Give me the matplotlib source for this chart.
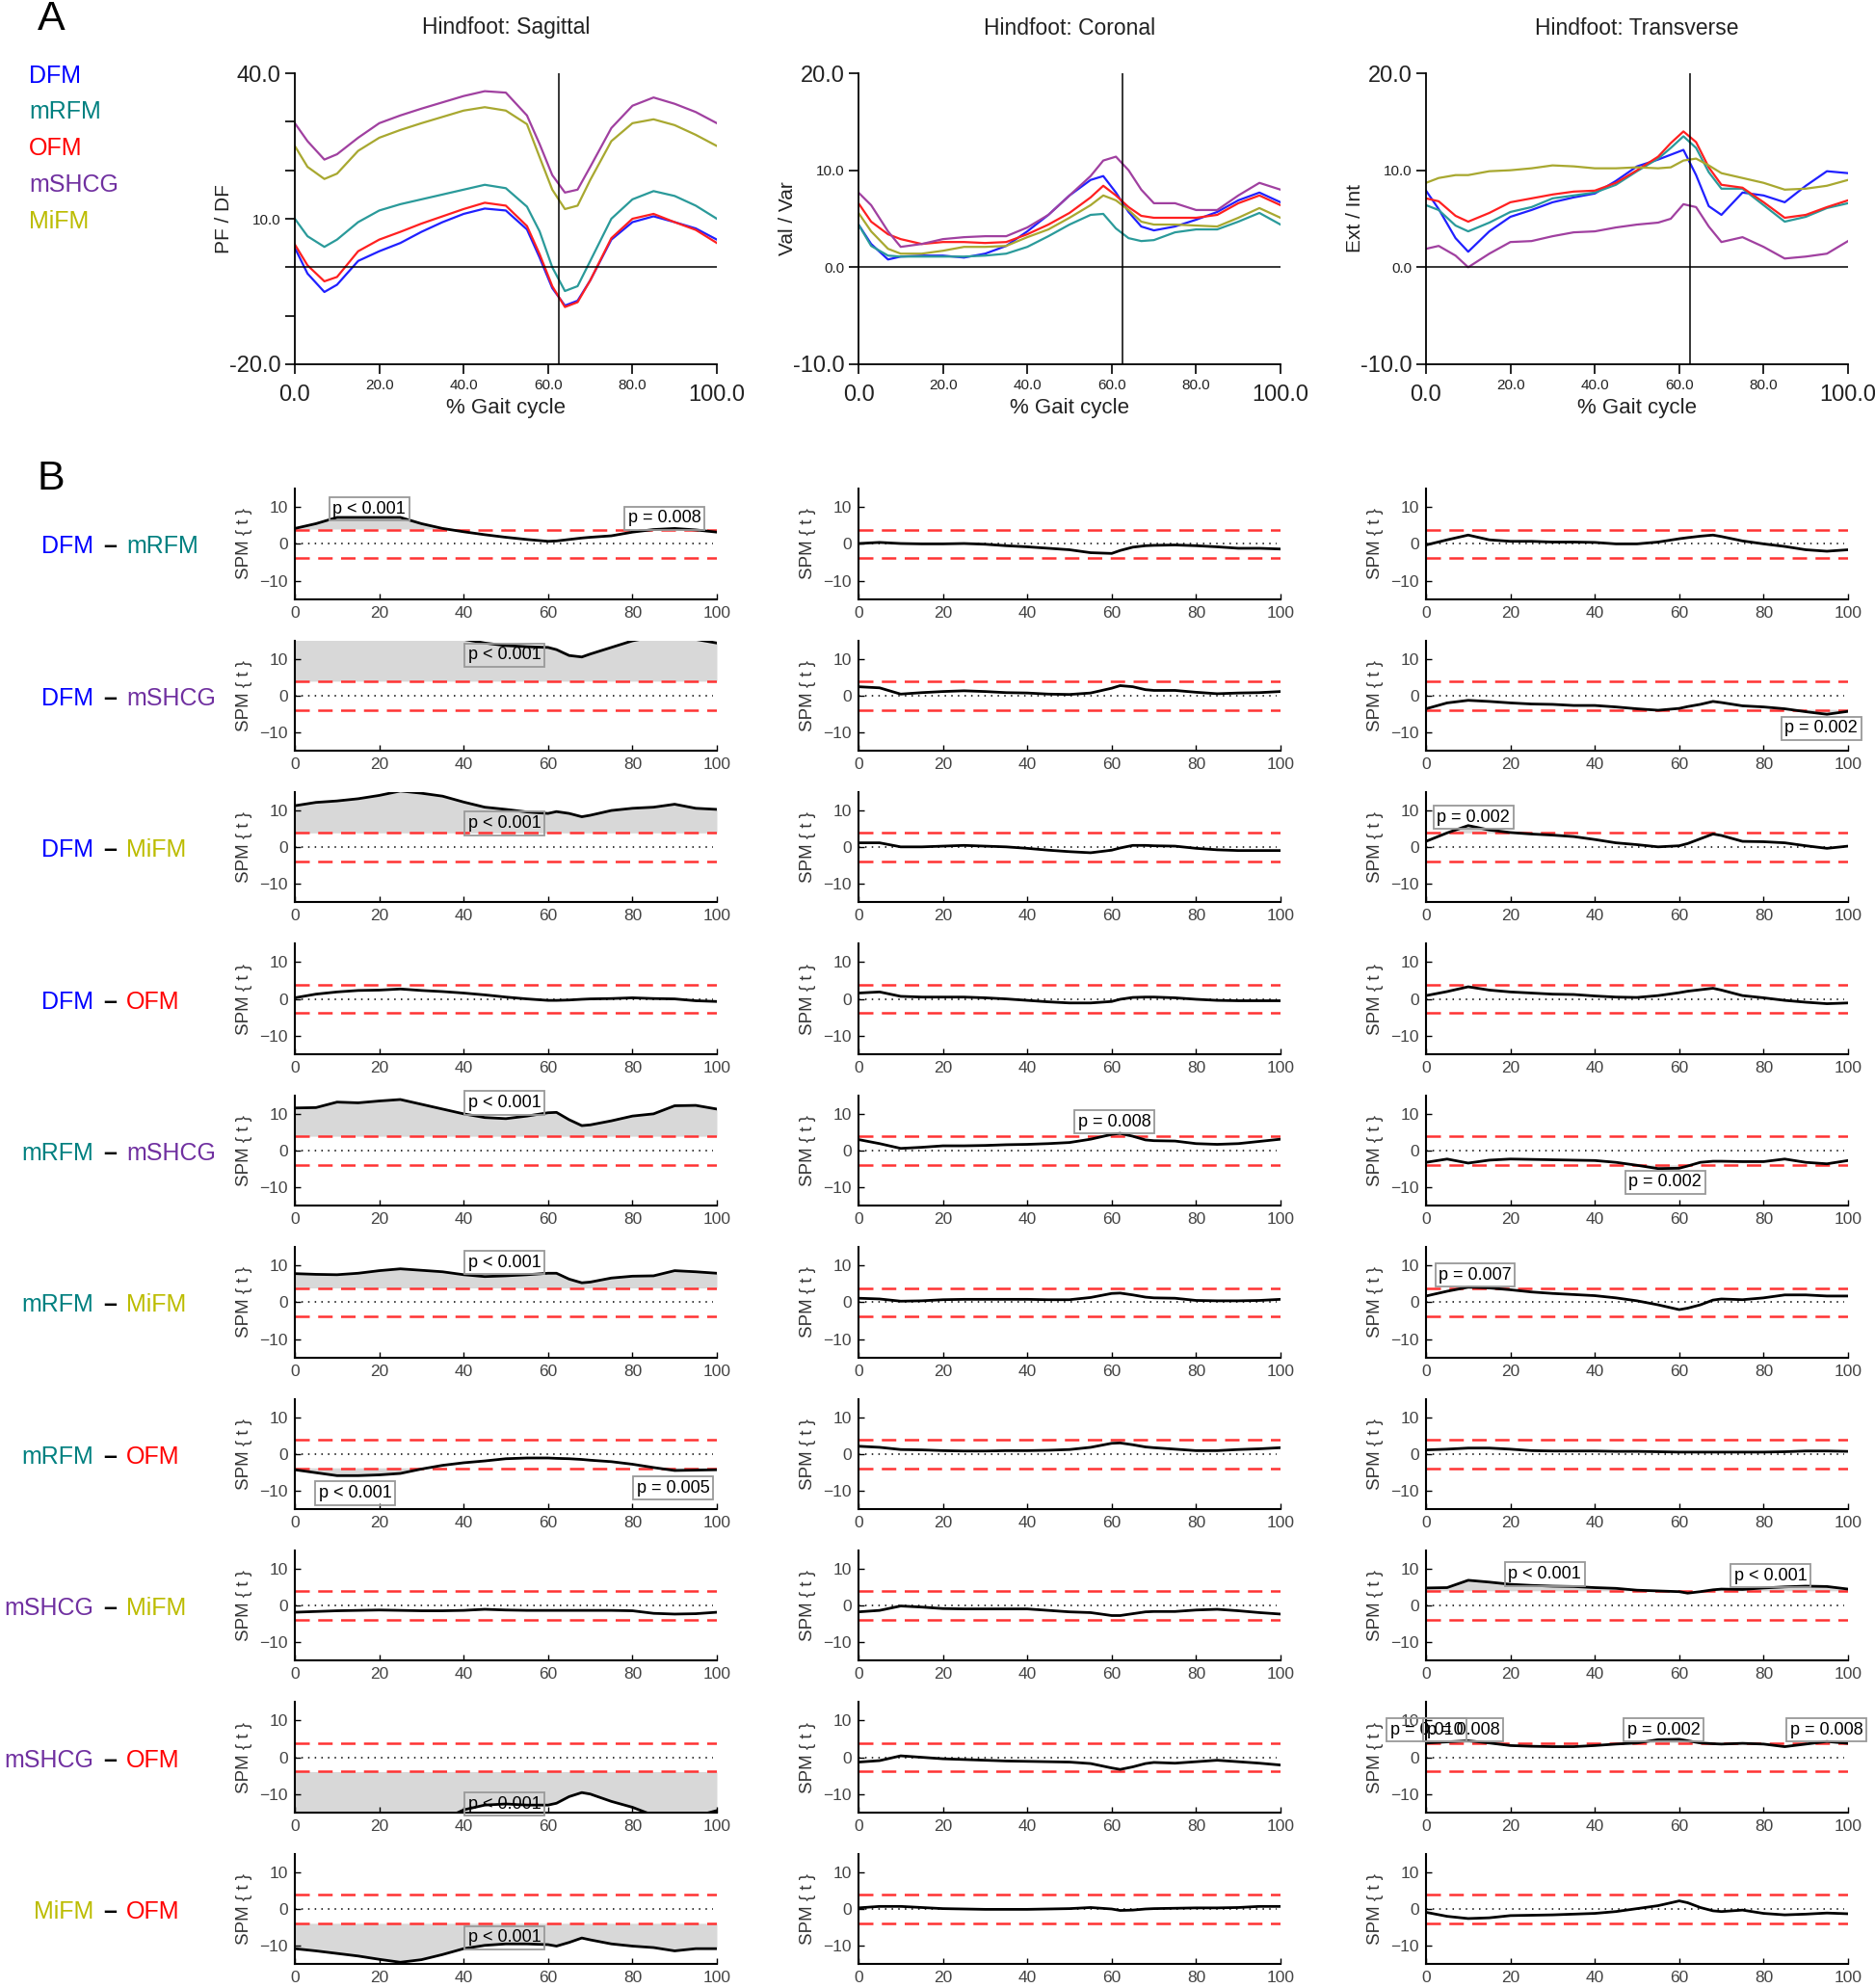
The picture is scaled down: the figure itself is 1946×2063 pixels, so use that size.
import numpy as np
import matplotlib
matplotlib.use('Agg')
import matplotlib.pyplot as plt
from matplotlib.transforms import ScaledTranslation

plt.rcParams['font.family'] = ['Liberation Sans', 'DejaVu Sans']

# ---------------- data ----------------
groups = ['DFM', 'mRFM', 'OFM', 'mSHCG', 'MiFM']
label_colors = ['#0000ff', '#008080', '#ff0000', '#7030a0', '#bcbc00']
line_colors = ['#2020ff', '#2a9a9a', '#ff2020', '#a040a0', '#a8a830']

planes = ['Sagittal', 'Coronal', 'Transverse']
plane_ylabels = ['PF / DF', 'Val / Var', 'Ext / Int']
toe_off = 62.5

# % gait cycle for the kinematic curves
gait_x = [0, 3, 7, 10, 15, 20, 25, 30, 35, 40, 45, 50, 55, 58, 61, 64, 67, 70, 75, 80, 85, 90, 95, 100]

# hindfoot sagittal (deg)
sag_dfm = [4.0, -1.3, -5.1, -3.6, 1.3, 3.3, 5.0, 7.3, 9.3, 11.0, 12.1, 11.7, 7.8, 2.0, -4.3, -7.9, -6.9, -2.7, 5.7, 9.3, 10.5, 9.3, 8.0, 5.7]
sag_mrfm = [10.0, 6.4, 4.2, 5.7, 9.3, 11.7, 13.0, 14.0, 15.0, 16.0, 17.0, 16.3, 12.5, 7.4, 0.0, -4.9, -3.9, 1.3, 10.0, 14.0, 15.7, 14.7, 12.7, 10.0]
sag_ofm = [4.7, 0.4, -2.9, -2.0, 3.3, 5.7, 7.3, 9.0, 10.5, 12.0, 13.3, 12.7, 8.5, 2.7, -3.9, -8.2, -7.2, -2.7, 6.0, 10.0, 11.0, 9.3, 7.7, 5.0]
sag_mshcg = [29.7, 26.0, 22.2, 23.3, 26.7, 29.7, 31.3, 32.7, 34.0, 35.3, 36.3, 36.0, 31.3, 25.4, 19.0, 15.4, 16.0, 20.7, 28.7, 33.3, 35.0, 33.7, 32.0, 29.7]
sag_mifm = [25.0, 20.7, 18.2, 19.3, 24.0, 26.7, 28.3, 29.7, 31.0, 32.3, 33.0, 32.3, 29.5, 22.7, 16.0, 12.0, 12.7, 18.0, 26.0, 29.7, 30.5, 29.3, 27.3, 25.0]

# hindfoot coronal (deg)
cor_dfm = [4.4, 2.4, 0.8, 1.1, 1.2, 1.2, 1.0, 1.4, 2.2, 3.7, 5.4, 7.4, 9.0, 9.4, 7.7, 5.7, 4.2, 3.8, 4.2, 4.9, 5.7, 6.9, 7.7, 6.7]
cor_mrfm = [4.4, 2.2, 1.2, 1.1, 1.1, 1.1, 1.1, 1.2, 1.4, 2.1, 3.2, 4.4, 5.4, 5.5, 4.0, 3.0, 2.7, 2.8, 3.6, 3.9, 3.9, 4.7, 5.6, 4.4]
cor_ofm = [6.6, 4.7, 3.4, 2.9, 2.4, 2.6, 2.6, 2.5, 2.6, 3.4, 4.4, 5.6, 7.2, 8.4, 7.4, 6.2, 5.3, 5.1, 5.1, 5.1, 5.4, 6.6, 7.4, 6.4]
cor_mshcg = [7.7, 6.4, 3.7, 2.1, 2.4, 2.9, 3.1, 3.2, 3.2, 4.1, 5.4, 7.4, 9.4, 11.0, 11.4, 10.0, 8.0, 6.6, 6.6, 5.9, 5.9, 7.4, 8.7, 8.0]
cor_mifm = [5.6, 3.7, 1.9, 1.4, 1.4, 1.7, 2.1, 2.1, 2.2, 3.1, 3.9, 5.1, 6.4, 7.4, 6.9, 5.9, 4.7, 4.4, 4.4, 4.3, 4.2, 5.1, 6.1, 5.1]

# hindfoot transverse (deg)
tra_dfm = [7.9, 6.0, 3.0, 1.6, 3.7, 5.2, 5.9, 6.7, 7.2, 7.6, 8.9, 10.4, 11.1, 11.6, 12.1, 9.5, 6.3, 5.4, 7.7, 7.4, 6.7, 8.4, 9.9, 9.7]
tra_mrfm = [6.4, 5.9, 4.3, 3.7, 4.6, 5.7, 6.2, 7.1, 7.4, 7.7, 8.5, 9.9, 11.2, 12.3, 13.5, 12.3, 9.8, 8.1, 8.1, 6.4, 4.7, 5.2, 6.1, 6.6]
tra_ofm = [7.1, 6.8, 5.3, 4.7, 5.6, 6.7, 7.1, 7.5, 7.8, 7.9, 8.7, 10.0, 11.4, 12.8, 14.0, 12.9, 10.3, 8.5, 8.2, 6.7, 5.1, 5.4, 6.2, 6.9]
tra_mshcg = [1.9, 2.2, 1.2, 0.0, 1.4, 2.6, 2.7, 3.2, 3.6, 3.7, 4.1, 4.4, 4.6, 5.0, 6.5, 6.2, 4.2, 2.6, 3.1, 2.1, 0.9, 1.1, 1.4, 2.7]
tra_mifm = [8.7, 9.2, 9.5, 9.5, 9.9, 10.0, 10.2, 10.5, 10.4, 10.2, 10.2, 10.3, 10.2, 10.3, 11.0, 11.2, 10.5, 9.7, 9.2, 8.7, 8.0, 8.1, 8.4, 9.0]

kinematics = [
    [sag_dfm, sag_mrfm, sag_ofm, sag_mshcg, sag_mifm],
    [cor_dfm, cor_mrfm, cor_ofm, cor_mshcg, cor_mifm],
    [tra_dfm, tra_mrfm, tra_ofm, tra_mshcg, tra_mifm],
]

# pairwise comparisons (SPM t statistic)
pairs = [('DFM', 'mRFM'), ('DFM', 'mSHCG'), ('DFM', 'MiFM'), ('DFM', 'OFM'),
         ('mRFM', 'mSHCG'), ('mRFM', 'MiFM'), ('mRFM', 'OFM'),
         ('mSHCG', 'MiFM'), ('mSHCG', 'OFM'), ('MiFM', 'OFM')]
t_crit = 3.9
spm_x = [0, 5, 10, 15, 20, 25, 30, 35, 40, 45, 50, 55, 60, 62, 65, 68, 70, 75, 80, 85, 90, 95, 100]

spm_sag = [
    [4.2, 5.5, 7.2, 7.2, 7.2, 7.2, 5.5, 4.2, 3.3, 2.5, 1.8, 1.2, 0.7, 0.8, 1.2, 1.6, 1.8, 2.2, 3.2, 3.9, 4.2, 3.8, 3.2],
    [19, 19.5, 20, 20, 19.5, 19, 18, 17, 15.3, 14.3, 13.6, 13.3, 13.1, 12.5, 10.9, 10.5, 11.3, 13.1, 14.9, 16, 16.5, 15.3, 14.3],
    [11.3, 12.2, 12.6, 13.2, 14.1, 15.3, 14.7, 13.9, 12.3, 10.9, 10.3, 9.6, 9.2, 9.7, 9.2, 8.3, 8.7, 10.0, 10.6, 10.9, 11.7, 10.6, 10.3],
    [0.3, 1.3, 1.9, 2.3, 2.4, 2.7, 2.3, 2.0, 1.6, 1.1, 0.5, 0.0, -0.4, -0.4, -0.3, -0.1, 0.0, 0.1, 0.3, 0.1, 0.0, -0.5, -0.7],
    [11.6, 11.7, 13.2, 13.0, 13.5, 13.9, 12.6, 11.3, 10.0, 9.0, 8.7, 9.4, 10.3, 10.4, 8.4, 6.8, 7.0, 8.1, 9.4, 10.0, 12.2, 12.3, 11.3],
    [7.8, 7.6, 7.5, 7.9, 8.6, 9.1, 8.7, 8.3, 7.5, 7.0, 7.2, 7.5, 7.9, 7.9, 6.3, 5.3, 5.5, 6.6, 7.1, 7.2, 8.6, 8.3, 7.9],
    [-4.3, -5.1, -5.9, -5.9, -5.7, -5.3, -4.1, -3.1, -2.4, -1.9, -1.3, -1.1, -1.1, -1.2, -1.3, -1.5, -1.7, -2.1, -2.8, -3.7, -4.5, -4.4, -4.3],
    [-1.8, -1.6, -1.4, -1.3, -1.2, -1.3, -1.4, -1.4, -1.3, -1.0, -1.2, -1.3, -1.3, -1.3, -1.3, -1.3, -1.3, -1.3, -1.4, -2.1, -2.3, -2.2, -1.8],
    [-19, -20, -21, -21, -21, -20.5, -19, -17, -14.3, -13.0, -12.7, -13.0, -13.0, -12.5, -10.7, -9.6, -10.0, -12.0, -13.6, -15.8, -17, -16, -14.5],
    [-10.8, -11.4, -12.1, -12.8, -13.7, -14.5, -13.8, -12.4, -10.8, -9.9, -9.5, -9.5, -9.7, -10.1, -9.1, -7.9, -8.4, -9.5, -10.1, -10.5, -11.4, -10.8, -10.8],
]
spm_cor = [
    [0.1, 0.4, 0.1, 0.0, 0.0, 0.1, -0.1, -0.5, -0.8, -1.2, -1.6, -2.4, -2.6, -1.8, -0.9, -0.5, -0.4, -0.3, -0.5, -0.8, -1.2, -1.2, -1.4],
    [2.4, 2.1, 0.4, 0.8, 1.1, 1.3, 1.1, 0.8, 0.7, 0.4, 0.3, 0.7, 2.0, 2.7, 2.4, 1.6, 1.4, 1.4, 0.9, 0.5, 0.7, 0.8, 1.1],
    [1.2, 1.2, 0.1, 0.1, 0.3, 0.5, 0.3, 0.1, -0.3, -0.8, -1.2, -1.5, -0.8, -0.2, 0.5, 0.5, 0.4, 0.3, -0.3, -0.7, -0.9, -0.9, -0.9],
    [1.6, 1.9, 0.7, 0.5, 0.5, 0.5, 0.3, 0.0, -0.4, -0.8, -1.1, -1.1, -0.7, -0.1, 0.4, 0.5, 0.5, 0.3, -0.1, -0.4, -0.5, -0.5, -0.5],
    [3.0, 1.9, 0.6, 0.9, 1.3, 1.3, 1.4, 1.6, 1.7, 1.9, 2.2, 3.1, 4.4, 4.7, 3.9, 2.9, 2.7, 2.6, 1.9, 1.7, 1.9, 2.5, 3.1],
    [1.1, 0.9, 0.3, 0.4, 0.7, 0.8, 0.8, 0.8, 0.8, 0.7, 0.7, 1.3, 2.4, 2.5, 2.0, 1.4, 1.2, 1.1, 0.5, 0.4, 0.4, 0.5, 0.8],
    [2.1, 1.8, 1.2, 1.1, 0.9, 0.8, 0.8, 0.9, 0.9, 1.0, 1.2, 1.8, 2.9, 3.0, 2.5, 1.9, 1.7, 1.3, 0.9, 0.9, 1.2, 1.4, 1.7],
    [-1.7, -1.3, -0.1, -0.4, -0.8, -0.9, -0.9, -0.9, -0.9, -1.3, -1.7, -1.9, -2.7, -2.7, -2.2, -1.7, -1.6, -1.6, -1.2, -1.0, -1.4, -1.9, -2.3],
    [-1.3, -0.9, 0.4, 0.0, -0.4, -0.6, -0.8, -1.0, -1.1, -1.2, -1.3, -1.7, -2.9, -3.3, -2.6, -1.7, -1.4, -1.6, -1.2, -0.8, -1.2, -1.6, -2.1],
    [0.3, 0.7, 0.7, 0.4, 0.1, 0.0, -0.1, -0.1, -0.1, 0.0, 0.1, 0.4, 0.0, -0.4, -0.3, 0.0, 0.1, 0.2, 0.3, 0.3, 0.4, 0.7, 0.7],
]
spm_tra = [
    [-0.3, 1.1, 2.4, 1.1, 0.7, 0.7, 0.5, 0.5, 0.4, 0.0, 0.0, 0.5, 1.4, 1.7, 2.1, 2.4, 2.0, 0.8, 0.0, -0.7, -1.6, -2.0, -1.6],
    [-3.6, -2.0, -1.3, -1.6, -2.0, -2.3, -2.4, -2.7, -2.7, -3.1, -3.6, -4.0, -3.5, -3.0, -2.4, -1.6, -1.9, -2.8, -3.1, -3.6, -4.4, -5.1, -4.3],
    [1.6, 3.9, 5.9, 4.7, 4.0, 3.6, 3.3, 2.9, 2.1, 1.2, 0.7, 0.1, 0.4, 1.0, 2.3, 3.6, 3.2, 1.6, 1.5, 1.2, 0.4, -0.3, 0.3],
    [0.9, 2.0, 3.3, 2.4, 1.9, 1.6, 1.3, 1.2, 0.8, 0.5, 0.4, 0.9, 1.7, 2.1, 2.5, 2.9, 2.4, 0.9, 0.3, -0.4, -0.9, -1.3, -1.1],
    [-3.2, -2.3, -3.4, -2.6, -2.3, -2.4, -2.5, -2.6, -2.7, -3.2, -4.0, -4.9, -4.8, -4.2, -3.2, -2.9, -2.9, -3.0, -3.0, -2.3, -3.2, -3.6, -2.7],
    [1.7, 3.0, 4.1, 3.9, 3.4, 2.8, 2.4, 2.1, 1.8, 1.2, 0.4, -0.7, -2.0, -1.6, -0.7, 0.6, 0.9, 0.7, 1.2, 2.0, 2.0, 1.7, 1.7],
    [1.1, 1.3, 1.6, 1.6, 1.3, 0.9, 0.8, 0.8, 0.8, 0.7, 0.7, 0.6, 0.5, 0.5, 0.5, 0.5, 0.5, 0.5, 0.5, 0.6, 0.8, 0.8, 0.7],
    [4.8, 4.9, 6.9, 6.4, 5.8, 5.5, 5.3, 5.2, 4.9, 4.7, 4.2, 4.0, 3.8, 3.4, 3.8, 4.3, 4.5, 4.4, 4.8, 5.1, 5.3, 5.2, 4.5],
    [3.9, 4.2, 4.5, 3.9, 3.2, 3.0, 2.9, 2.9, 3.2, 3.6, 3.9, 4.8, 4.9, 4.5, 3.9, 3.7, 3.6, 3.8, 3.6, 2.9, 3.6, 4.3, 3.8],
    [-0.9, -2.0, -2.6, -2.4, -1.8, -1.7, -1.6, -1.4, -1.2, -0.7, 0.1, 0.9, 2.2, 1.7, 0.4, -0.5, -0.7, -0.3, -1.2, -1.6, -1.4, -1.1, -1.3],
]
spm_all = [spm_sag, spm_cor, spm_tra]

# p-value annotations: (row, column, left x, y, text)
p_labels = [
    (0, 0, 8, 9.5, 'p < 0.001'), (0, 0, 78, 7.0, 'p = 0.008'),
    (1, 0, 40, 11.0, 'p < 0.001'), (2, 0, 40, 6.5, 'p < 0.001'),
    (4, 0, 40, 13.0, 'p < 0.001'), (5, 0, 40, 10.8, 'p < 0.001'),
    (6, 0, 4.6, -10.7, 'p < 0.001'), (6, 0, 80, -9.3, 'p = 0.005'),
    (8, 0, 40, -12.7, 'p < 0.001'), (9, 0, 40, -7.8, 'p < 0.001'),
    (4, 1, 51, 7.8, 'p = 0.008'),
    (1, 2, 84, -8.9, 'p = 0.002'), (2, 2, 1.6, 8.1, 'p = 0.002'),
    (4, 2, 47, -8.6, 'p = 0.002'), (5, 2, 2, 7.4, 'p = 0.007'),
    (7, 2, 18.5, 8.6, 'p < 0.001'), (7, 2, 72, 8.1, 'p < 0.001'),
    (8, 2, -9.5, 7.4, 'p = 0.010'), (8, 2, -0.8, 7.4, 'p = 0.008'),
    (8, 2, 46.7, 7.4, 'p = 0.002'), (8, 2, 85.3, 7.4, 'p = 0.008'),
]

# ---------------- figure ----------------
W, H = 1946, 2063
fig = plt.figure(figsize=(W / 100, H / 100), dpi=100)

col_left = [306, 891, 1480]
col_w = 438


def fx(px):
    return px / W


def fy(py):
    return 1 - py / H


# panel A: kinematics
kin_yt = [[-20, -10, 0, 10, 20, 30, 40], [-10, 0, 10, 20], [-10, 0, 10, 20]]
kin_yl = [['-20.0', '', '', '10.0', '', '', '40.0'], ['-10.0', '0.0', '10.0', '20.0'], ['-10.0', '0.0', '10.0', '20.0']]
kin_ylim = [(-20, 40), (-10, 20), (-10, 20)]
for c in range(3):
    ax = fig.add_axes([fx(col_left[c]), fy(378), fx(col_w), 302 / H])
    for g in range(5):
        ax.plot(gait_x, kinematics[c][g], color=line_colors[g], lw=1.6)
    ax.axhline(0, color='k', lw=1.1)
    ax.axvline(toe_off, color='k', lw=1.1)
    ax.set_xlim(0, 100)
    ax.set_ylim(*kin_ylim[c])
    ax.spines[['top', 'right']].set_visible(False)
    for s in ['left', 'bottom']:
        ax.spines[s].set_linewidth(1.3)
    ax.tick_params(direction='out', length=7, width=1.2, colors='k')
    ax.set_yticks(kin_yt[c])
    ax.set_yticklabels(kin_yl[c])
    for lab in ax.get_yticklabels():
        t = lab.get_text()
        lab.set_fontsize(17 if t in ('40.0', '20.0', '-20.0', '-10.0') else 11)
        lab.set_color('#222222')
    ax.set_xticks([0, 20, 40, 60, 80, 100])
    ax.set_xticklabels(['0.0', '20.0', '40.0', '60.0', '80.0', '100.0'])
    for lab in ax.get_xticklabels():
        lab.set_color('#222222')
        if lab.get_text() in ('0.0', '100.0'):
            lab.set_fontsize(17)
            lab.set_transform(lab.get_transform() + ScaledTranslation(0, -0.06, fig.dpi_scale_trans))
        else:
            lab.set_fontsize(11)
    ax.set_ylabel(plane_ylabels[c], fontsize=15, color='#222222')
    ax.yaxis.set_label_coords(-0.145, 0.5)
    ax.set_xlabel('% Gait cycle', fontsize=16, color='#222222')
    ax.xaxis.set_label_coords(0.5, -0.115)
    fig.text(fx(col_left[c] + col_w / 2), fy(29), 'Hindfoot: ' + planes[c],
             ha='center', va='center', fontsize=16.5, color='#222222')

fig.text(fx(53), fy(20), 'A', ha='center', va='center', fontsize=31)
for g, yy in zip(range(5), [79, 116, 154, 192, 230]):
    fig.text(fx(30), fy(yy), groups[g], ha='left', va='center', fontsize=18, color=label_colors[g])

# panel B: SPM
fig.text(fx(53), fy(497), 'B', ha='center', va='center', fontsize=31)
name_col = dict(zip(groups, label_colors))
spm_x_arr = np.array(spm_x)
for r in range(10):
    zero_px = 564.4 + 157.4 * r
    a, b = pairs[r]
    fig.text(fx(97), fy(zero_px + 3), a, ha='right', va='center', fontsize=18, color=name_col[a])
    fig.text(fx(114), fy(zero_px + 3), '\u2013', ha='center', va='center', fontsize=18,
             color='k', fontweight='bold')
    fig.text(fx(131), fy(zero_px + 3), b, ha='left', va='center', fontsize=18, color=name_col[b])
    for c in range(3):
        ax = fig.add_axes([fx(col_left[c]), fy(zero_px + 57.2), fx(col_w), 114.4 / H])
        t = np.array(spm_all[c][r])
        ax.fill_between(spm_x_arr, t_crit, t, where=t > t_crit, interpolate=True,
                        color='#d8d8d8', lw=0, zorder=1)
        ax.fill_between(spm_x_arr, -t_crit, t, where=t < -t_crit, interpolate=True,
                        color='#d8d8d8', lw=0, zorder=1)
        ax.axhline(0, xmax=0.99, color='k', ls=(0, (1, 3.5)), lw=1.1, zorder=2)
        ax.axhline(t_crit, color='#ff3333', ls=(0, (6, 3.5)), lw=1.8, zorder=2)
        ax.axhline(-t_crit, color='#ff3333', ls=(0, (6, 3.5)), lw=1.8, zorder=2)
        ax.plot(spm_x_arr, t, color='k', lw=2.0, zorder=3)
        ax.set_xlim(0, 100)
        ax.set_ylim(-15, 15)
        ax.spines[['top', 'right']].set_visible(False)
        for s in ['left', 'bottom']:
            ax.spines[s].set_linewidth(1.5)
            ax.spines[s].set_zorder(4)
        ax.set_xticks([0, 20, 40, 60, 80, 100])
        ax.set_yticks([-10, 0, 10])
        ax.tick_params(direction='in', length=4, width=1, labelsize=12.5,
                       labelcolor='#444444', pad=5)
        ax.set_ylabel('SPM { t }', fontsize=13.5, color='#333333')
        ax.yaxis.set_label_coords(-0.1, 0.5)
        for (pr, pc, px0, py0, txt) in p_labels:
            if pr == r and pc == c:
                ax.text(px0 + 1, py0, txt, ha='left', va='center', fontsize=13,
                        color='k', zorder=5,
                        bbox=dict(boxstyle='square,pad=0.2', fc='none', ec='#999999', lw=1.3))

fig.savefig('out.png', dpi=100)
